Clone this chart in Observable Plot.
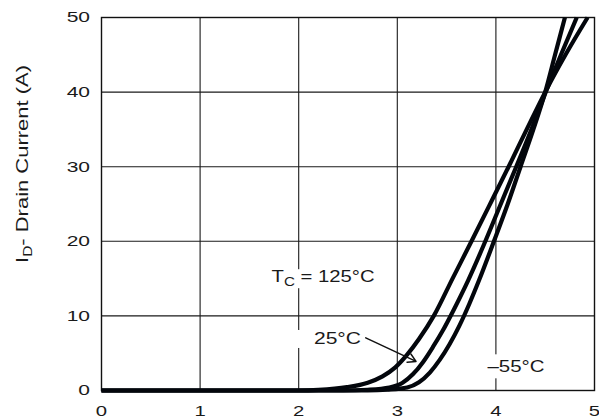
<!DOCTYPE html>
<html>
<head>
<meta charset="utf-8">
<script src="https://cdn.jsdelivr.net/npm/d3@7"></script>
<script src="https://cdn.jsdelivr.net/npm/@observablehq/plot@0.6"></script>
<style>
  html, body { margin: 0; padding: 0; background: #fff; }
  svg { display: block; }
</style>
</head>
<body>
<div id="chart"></div>
<script>
// ---- Data ----
const xTicks = [0, 1, 2, 3, 4, 5];
const yTicks = [0, 10, 20, 30, 40, 50];

const vgs125 = [0, 2.0, 2.2, 2.49, 2.7, 2.85, 2.98, 3.1, 3.22, 3.37, 3.56, 3.76, 3.96, 4.14, 4.32, 4.5, 4.71, 4.93];
const id125  = [0, 0, 0.08, 0.45, 1.05, 1.9, 3.1, 4.8, 6.9, 10.0, 15, 20.2, 25.5, 30.3, 35.2, 40, 45.1, 50];

const vgs25 = [0, 2.45, 2.7, 2.92, 3.05, 3.16, 3.26, 3.36, 3.46, 3.56, 3.72, 3.88, 4.04, 4.2, 4.36, 4.5, 4.66, 4.82];
const id25  = [0, 0, 0.1, 0.4, 1.0, 2.2, 3.8, 5.8, 8.0, 10.5, 14.8, 19.6, 24.7, 29.8, 35, 39.8, 45, 50];

const vgsM55 = [0, 2.7, 2.9, 3.1, 3.22, 3.33, 3.43, 3.53, 3.63, 3.73, 3.83, 3.98, 4.12, 4.25, 4.38, 4.5, 4.6, 4.7];
const idM55  = [0, 0, 0.1, 0.4, 1.1, 2.4, 4.1, 6.2, 8.7, 11.6, 14.8, 20, 25, 30, 35, 40, 45, 50];

const seriesNames = ["125", "25", "-55"];

// annotation labels: parts [text, isSubscript]
const labelParts = [
  [["T", false], ["C", true], [" = 125°C", false]],
  [["25°C", false]],
  [["–55°C", false]]
];
const labelV = [1.73, 2.16, 3.92];
const labelI = [14.45, 6.17, 2.37];

const arrowFrom = [2.68, 7.06];
const arrowTo = [3.19, 3.9];

const yTitleParts = [["I", false], ["D", true], ["- Drain Current (A)", false]];

// ---- Build table ----
const rows = [];
[[vgs125, id125], [vgs25, id25], [vgsM55, idM55]].forEach(([vs, is], k) => {
  vs.forEach((v, j) => rows.push({v, i: is[j], t: seriesNames[k]}));
});

// ---- Plot ----
const plot = Plot.plot({
  width: 599,
  height: 418,
  marginLeft: 101,
  marginRight: 5,
  marginTop: 17,
  marginBottom: 28,
  style: {fontFamily: "'Liberation Sans', Arial, sans-serif", fontSize: "15px", color: "#1a1a1a", background: "#fff"},
  x: {domain: [0, 5], ticks: xTicks, tickSize: 0, tickPadding: 15, label: null, tickFormat: d => String(d)},
  y: {domain: [0, 50], ticks: yTicks, tickSize: 0, tickPadding: 11.5, label: null, tickFormat: d => String(d)},
  marks: [
    Plot.ruleX(xTicks.slice(1, -1), {stroke: "#1a1a1a", strokeWidth: 1.1}),
    Plot.ruleY(yTicks.slice(1, -1), {stroke: "#1a1a1a", strokeWidth: 1.1}),
    Plot.frame({stroke: "#111", strokeWidth: 1.4}),
    Plot.line(rows, {x: "v", y: "i", z: "t", stroke: "#03060c", strokeWidth: 4.2, curve: "monotone-x", strokeLinecap: "butt"}),
    Plot.arrow([0], {x1: () => arrowFrom[0], y1: () => arrowFrom[1], x2: () => arrowTo[0], y2: () => arrowTo[1], stroke: "#111", strokeWidth: 1.5, headLength: 9})
  ]
});
document.getElementById("chart").appendChild(plot);

const svg = d3.select(plot);
svg.selectAll('g[aria-label^="x-axis"] text').attr("font-size", 14.5);
// stretch axis tick labels (reference font is extended)
svg.selectAll("text").each(function() {
  const len = this.getComputedTextLength();
  if (len > 0) {
    this.setAttribute("textLength", (len * 1.4).toFixed(2));
    this.setAttribute("lengthAdjust", "spacingAndGlyphs");
  }
});

const xs = plot.scale("x"), ys = plot.scale("y");
const font = "'Liberation Sans', Arial, sans-serif";
const labelWidths = [103, 47, 57];
const labelPad = [[1, 2, 1, 2], [2, 2, 3, 18], [6, 2, 5, 2]]; // top,right,bottom,left

labelParts.forEach((parts, k) => {
  const g = svg.append("g");
  const rect = g.append("rect").attr("fill", "#fff");
  const t = g.append("text")
    .attr("x", xs.apply(labelV[k]))
    .attr("y", ys.apply(labelI[k]))
    .attr("text-anchor", "start")
    .attr("font-family", font)
    .attr("font-size", 16)
    .attr("fill", "#1a1a1a");
  let sub = false;
  parts.forEach(([s, isSub]) => {
    const sp = t.append("tspan").text(s);
    if (isSub && !sub) { sp.attr("dy", 4).attr("font-size", 12); sub = true; }
    else if (!isSub && sub) { sp.attr("dy", -4); sub = false; }
  });
  t.attr("textLength", labelWidths[k]).attr("lengthAdjust", "spacingAndGlyphs");
  const b = t.node().getBBox();
  const p = labelPad[k];
  rect.attr("x", b.x - p[3]).attr("y", b.y - p[0] + 2)
      .attr("width", b.width + p[1] + p[3]).attr("height", b.height + p[0] + p[2] - 4);
});

// y-axis title with subscript
const yt = svg.append("text")
  .attr("transform", "translate(27.5,164) rotate(-90)")
  .attr("text-anchor", "middle")
  .attr("font-family", font)
  .attr("font-size", 17)
  .attr("fill", "#1a1a1a");
let subOn = false;
yTitleParts.forEach(([s, isSub]) => {
  const sp = yt.append("tspan").text(s);
  if (isSub && !subOn) { sp.attr("dy", 4).attr("font-size", 12); subOn = true; }
  else if (!isSub && subOn) { sp.attr("dy", -4); subOn = false; }
});
yt.attr("textLength", 198).attr("lengthAdjust", "spacingAndGlyphs");
</script>
</body>
</html>
